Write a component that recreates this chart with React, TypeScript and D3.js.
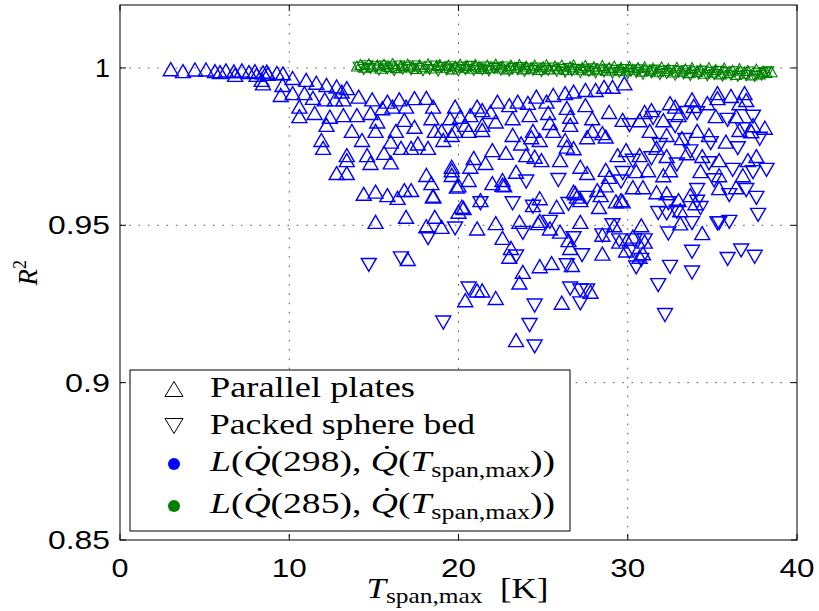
import React from "react";
import * as d3 from "d3";

// ---------- data ----------
const xTicks = [0, 10, 20, 30, 40];
const yTicks = [0.85, 0.9, 0.95, 1];
const yTickLabels = ["0.85", "0.9", "0.95", "1"];
const legendLabels = ["Parallel plates", "Packed sphere bed"];

// Blue, parallel plates (up triangles): [T_span,max, R^2]
const bluePlates: [number, number][] = [
  [3.0, 0.9996], [3.72, 0.999], [4.43, 0.9995], [5.08, 0.9995], [5.61, 0.999], [5.91, 0.9987],
  [6.26, 0.9992], [6.73, 0.9989], [6.8, 0.9978], [7.2, 0.9992], [7.62, 0.9987], [7.97, 0.999],
  [8.07, 0.9978], [8.37, 0.9962], [8.45, 0.9951], [8.45, 0.9986], [8.67, 0.9988], [8.74, 0.9981],
  [9.27, 0.9984], [9.63, 0.9983], [9.6, 0.9946], [9.5, 0.9914], [10.2, 0.9968], [10.2, 0.992],
  [10.6, 0.9877], [10.6, 0.9847], [11.0, 0.9962], [10.9, 0.992], [11.5, 0.9857], [11.6, 0.9953],
  [11.4, 0.9905], [12.2, 0.9946], [12.1, 0.99], [12.2, 0.9819], [11.9, 0.9771], [12.0, 0.9746],
  [12.4, 0.9845], [12.8, 0.9941], [12.7, 0.99], [13.2, 0.985], [13.4, 0.9936], [13.2, 0.99],
  [13.1, 0.9925], [13.7, 0.98], [13.4, 0.9723], [13.4, 0.9707], [12.8, 0.9666], [13.4, 0.9666],
  [14.1, 0.9909], [14.0, 0.985], [14.3, 0.9771], [14.6, 0.9723], [14.8, 0.9698], [14.4, 0.96],
  [15.1, 0.9607], [15.1, 0.9511], [14.9, 0.99], [14.8, 0.9857], [15.2, 0.983], [15.1, 0.98],
  [15.5, 0.9872], [15.8, 0.9893], [15.6, 0.973], [16.0, 0.97], [16.0, 0.9766], [16.3, 0.98],
  [16.1, 0.9877], [15.8, 0.9596], [16.4, 0.9587], [16.8, 0.9612], [17.2, 0.9612], [16.9, 0.9527],
  [16.6, 0.9746], [16.8, 0.9835], [16.5, 0.99], [16.9, 0.9877], [17.2, 0.9746], [17.4, 0.9904],
  [17.4, 0.9813], [17.6, 0.976], [18.1, 0.9905], [18.5, 0.9877], [18.4, 0.984], [18.6, 0.98],
  [18.2, 0.9746], [18.1, 0.966], [18.4, 0.9634], [18.5, 0.9591], [18.5, 0.9594], [18.6, 0.9527],
  [18.1, 0.9497], [19.0, 0.9495], [19.0, 0.98], [19.1, 0.9771], [19.6, 0.9787], [19.8, 0.9877],
  [19.5, 0.984], [19.6, 0.9686], [19.6, 0.966], [19.9, 0.9623], [20.0, 0.9543], [17.0, 0.9393],
  [21.1, 0.9877], [22.3, 0.9893], [21.9, 0.986], [23.5, 0.9893], [24.6, 0.9909], [25.6, 0.9914],
  [26.3, 0.992], [26.8, 0.9925], [27.5, 0.993], [28.1, 0.993], [28.6, 0.994], [29.1, 0.994],
  [29.8, 0.9951], [20.7, 0.985], [20.1, 0.9845], [21.4, 0.9866], [23.0, 0.9882], [24.1, 0.9889],
  [25.2, 0.9893], [26.4, 0.9873], [27.5, 0.9882], [28.9, 0.986], [24.2, 0.985], [25.3, 0.9857],
  [26.6, 0.9845], [27.9, 0.984], [29.7, 0.9835], [22.2, 0.983], [23.2, 0.984], [21.4, 0.9819],
  [20.4, 0.9819], [19.8, 0.98], [20.6, 0.98], [21.4, 0.9803], [25.4, 0.9825], [26.6, 0.9819],
  [24.4, 0.98], [25.6, 0.98], [23.2, 0.9787], [27.9, 0.98], [28.5, 0.9793], [28.7, 0.9782],
  [27.6, 0.978], [24.3, 0.978], [26.3, 0.9771], [23.7, 0.976], [24.8, 0.9771], [26.4, 0.975],
  [26.8, 0.9745], [22.0, 0.9739], [22.8, 0.973], [24.0, 0.9723], [24.5, 0.9718], [24.9, 0.9707],
  [20.9, 0.9714], [21.6, 0.9698], [20.7, 0.9686], [19.6, 0.9675], [26.0, 0.9707], [27.2, 0.9686],
  [28.7, 0.9676], [29.4, 0.9723], [28.9, 0.9654], [27.6, 0.9666], [23.4, 0.967], [22.6, 0.9644],
  [22.7, 0.9627], [22.6, 0.9629], [20.6, 0.9644], [20.0, 0.9627], [22.0, 0.9634], [20.3, 0.9555],
  [24.8, 0.9586], [24.4, 0.9564], [25.8, 0.9559], [27.0, 0.9591], [26.9, 0.9602], [28.7, 0.9627],
  [29.6, 0.958], [29.3, 0.9576], [28.4, 0.9596], [28.2, 0.9612], [26.8, 0.9607], [27.2, 0.958],
  [20.2, 0.9559], [21.1, 0.949], [22.2, 0.9507], [22.6, 0.946], [23.1, 0.9428], [23.0, 0.94],
  [23.6, 0.9511], [21.3, 0.958], [24.7, 0.9507], [24.8, 0.937], [24.8, 0.9514], [25.4, 0.949],
  [26.0, 0.948], [26.5, 0.9453], [26.6, 0.9428], [27.2, 0.9511], [28.3, 0.9558], [28.5, 0.947],
  [28.5, 0.941], [29.2, 0.95], [29.5, 0.9448], [30.8, 0.95], [31.0, 0.9448], [30.3, 0.9464],
  [30.7, 0.94], [25.5, 0.938], [26.7, 0.9374], [23.8, 0.9352], [23.6, 0.9318], [21.1, 0.9293],
  [21.4, 0.9293], [20.4, 0.9262], [22.2, 0.9269], [27.8, 0.9289], [26.1, 0.9254], [23.4, 0.9135],
  [31.0, 0.986], [31.4, 0.9866], [32.5, 0.9888], [32.8, 0.9877], [33.8, 0.99], [33.9, 0.9879],
  [34.7, 0.9888], [35.3, 0.992], [35.3, 0.9904], [36.1, 0.9911], [36.9, 0.992], [37.0, 0.9898],
  [36.6, 0.9888], [30.7, 0.9834], [32.1, 0.9834], [33.0, 0.985], [35.2, 0.9847], [36.4, 0.9847],
  [37.4, 0.9818], [38.1, 0.981], [31.3, 0.98], [32.3, 0.9787], [33.2, 0.9777], [34.1, 0.98],
  [34.8, 0.9787], [35.8, 0.9766], [36.6, 0.9803], [37.3, 0.9799], [29.9, 0.9739], [30.7, 0.9723],
  [31.7, 0.9746], [32.3, 0.972], [33.5, 0.9729], [34.4, 0.972], [35.4, 0.9707], [37.1, 0.9707],
  [37.6, 0.972], [36.8, 0.9659], [30.5, 0.9672], [31.2, 0.9675], [32.1, 0.9659], [32.5, 0.9675],
  [34.3, 0.9672], [35.4, 0.9659], [30.3, 0.9621], [30.9, 0.9621], [31.7, 0.9605], [32.3, 0.9602],
  [33.0, 0.958], [33.7, 0.9596], [35.4, 0.9618], [36.4, 0.9621], [34.0, 0.957], [33.1, 0.9548],
  [29.7, 0.9576], [33.1, 0.9506], [34.4, 0.9475], [30.9, 0.9411], [29.9, 0.942],
];

// Blue, packed sphere bed (down triangles)
const blueSpheres: [number, number][] = [
  [18.2, 0.9459], [19.8, 0.949], [14.7, 0.9374], [16.6, 0.9395], [20.6, 0.9299], [19.1, 0.9191],
  [24.5, 0.9115], [24.2, 0.9183], [24.5, 0.9245], [23.4, 0.9401], [23.8, 0.9476], [21.3, 0.957],
  [23.2, 0.957], [25.4, 0.9511], [27.3, 0.9405], [30.5, 0.9366], [30.8, 0.939], [32.5, 0.9368],
  [31.8, 0.931], [32.2, 0.9215], [33.8, 0.9416], [33.8, 0.935], [35.9, 0.9393], [36.7, 0.942],
  [37.5, 0.94], [35.4, 0.9507], [36.0, 0.9511], [37.7, 0.9533], [37.6, 0.9587], [37.0, 0.9612],
  [34.1, 0.9612], [33.8, 0.9507], [31.8, 0.9539], [32.4, 0.957], [32.9, 0.9543], [34.3, 0.9555],
  [34.1, 0.9575], [30.1, 0.9416], [29.5, 0.9452], [28.5, 0.9468], [26.4, 0.9373], [26.6, 0.9299],
  [27.2, 0.9293], [27.6, 0.9293], [27.2, 0.9252], [24.4, 0.9559], [26.5, 0.9568], [27.6, 0.9587],
  [26.8, 0.9459], [29.6, 0.9639], [25.9, 0.9644], [24.0, 0.9639], [29.1, 0.95], [30.4, 0.9452],
  [31.0, 0.9452], [37.4, 0.9845], [30.1, 0.9818], [31.5, 0.9841], [33.5, 0.9857], [33.4, 0.9771],
  [34.9, 0.9761], [31.4, 0.9713], [34.8, 0.9697], [36.2, 0.9676], [38.2, 0.9676], [37.4, 0.9669],
  [29.7, 0.9666], [35.1, 0.9643], [36.0, 0.9596], [32.3, 0.9538], [35.3, 0.9506], [32.4, 0.9474],
  [34.1, 0.9856], [32.8, 0.9815], [35.9, 0.9835], [36.8, 0.9805], [37.8, 0.9775], [31.9, 0.9755],
  [33.7, 0.9735], [36.5, 0.9745], [32.9, 0.9693], [30.3, 0.9705],
];

// Green, parallel plates (up triangles)
const greenPlates: [number, number][] = [
  [14.0, 1.0006], [14.2, 1.0011], [14.5, 1.0002], [14.7, 1.0013], [14.9, 1.0004], [15.2, 1.0009],
  [15.4, 0.9999], [15.6, 1.0012], [15.9, 1.0005], [16.1, 1.0014], [16.3, 1.0001], [16.6, 1.0008],
  [16.8, 1.0003], [17.0, 1.0012], [17.3, 1.0006], [17.5, 0.9998], [17.7, 1.001], [18.0, 1.0004],
  [18.2, 1.0013], [18.4, 1.0], [18.7, 1.0008], [18.9, 1.0011], [19.1, 1.0002], [19.4, 1.0009],
  [19.6, 0.9997], [19.8, 1.0006], [20.1, 1.0012], [20.3, 1.0002], [20.5, 1.0008], [20.8, 0.9999],
  [21.0, 1.0011], [21.2, 1.0004], [21.5, 0.9998], [21.7, 1.0009], [21.9, 1.0002], [22.2, 1.0012],
  [22.4, 1.0], [22.6, 1.0006], [22.9, 0.9997], [23.1, 1.0009], [23.3, 1.0002], [23.6, 1.0011],
  [23.8, 0.9997], [24.0, 1.0006], [24.3, 1.0], [24.5, 1.0009], [24.7, 0.9995], [25.0, 1.0004],
  [25.2, 1.001], [25.4, 0.9997], [25.7, 1.0006], [25.9, 0.9999], [26.1, 1.0009], [26.4, 0.9995],
  [26.6, 1.0004], [26.8, 1.001], [27.1, 0.9996], [27.3, 1.0002], [27.5, 1.0008], [27.8, 0.9994],
  [28.0, 1.0004], [28.2, 0.9997], [28.5, 1.0008], [28.7, 0.9993], [28.9, 1.0001], [29.2, 1.0006],
  [29.4, 0.9994], [29.6, 1.0002], [29.9, 0.9991], [30.1, 1.0005], [30.3, 0.9996], [30.6, 1.0001],
  [30.8, 0.999], [31.0, 1.0004], [31.3, 0.9993], [31.5, 0.9999], [31.7, 0.9988], [32.0, 1.0003],
  [32.2, 0.9992], [32.4, 0.9998], [32.7, 0.9987], [32.9, 1.0002], [33.1, 0.999], [33.4, 0.9997],
  [33.6, 0.9985], [33.8, 1.0001], [34.1, 0.9989], [34.3, 0.9996], [34.5, 0.9983], [34.8, 1.0001],
  [35.0, 0.9987], [35.2, 0.9995], [35.5, 0.9981], [35.7, 1.0], [35.9, 0.9985], [36.2, 0.9993],
  [36.4, 0.9979], [36.6, 0.9998], [36.9, 0.9983], [37.1, 0.9992], [37.3, 0.9978], [37.6, 0.9996],
  [37.8, 0.9981], [38.0, 0.999], [38.2, 0.9986], [38.5, 0.9988],
];

// Green, packed sphere bed (down triangles)
const greenSpheres: [number, number][] = [
  [14.1, 1.0002], [14.4, 0.9995], [14.6, 1.0007], [14.8, 0.9998], [15.1, 1.0004], [15.3, 0.9993],
  [15.5, 1.0006], [15.8, 0.9997], [16.0, 1.0003], [16.2, 0.9991], [16.5, 1.0006], [16.7, 0.9996],
  [16.9, 1.0002], [17.2, 0.9994], [17.4, 1.0006], [17.6, 0.9998], [17.9, 0.9991], [18.1, 1.0003],
  [18.3, 0.9995], [18.6, 1.0006], [18.8, 0.999], [19.0, 1.0001], [19.3, 0.9994], [19.5, 1.0004],
  [19.7, 0.9997], [20.0, 0.9991], [20.2, 1.0002], [20.4, 0.9995], [20.7, 1.0005], [20.9, 0.9992],
  [21.1, 1.0], [21.4, 0.9994], [21.6, 1.0003], [21.8, 0.999], [22.1, 0.9998], [22.3, 1.0002],
  [22.5, 0.9993], [22.8, 1.0003], [23.0, 0.999], [23.2, 0.9998], [23.5, 0.9994], [23.7, 1.0001],
  [23.9, 0.9989], [24.2, 0.9997], [24.4, 0.9992], [24.6, 1.0], [24.9, 0.9988], [25.1, 0.9997],
  [25.3, 0.9992], [25.6, 1.0], [25.8, 0.9989], [26.0, 0.9995], [26.3, 0.9986], [26.5, 0.9998],
  [26.7, 0.999], [27.0, 0.9995], [27.2, 0.9985], [27.4, 0.9994], [27.7, 0.9989], [27.9, 0.9997],
  [28.1, 0.9984], [28.4, 0.9993], [28.6, 0.9987], [28.8, 0.9996], [29.1, 0.9983], [29.3, 0.9992],
  [29.5, 0.9986], [29.8, 0.9995], [30.0, 0.9982], [30.2, 0.9991], [30.5, 0.9985], [30.7, 0.9994],
  [30.9, 0.998], [31.2, 0.999], [31.4, 0.9984], [31.6, 0.9993], [31.9, 0.9979], [32.1, 0.9989],
  [32.3, 0.9982], [32.6, 0.9992], [32.8, 0.9977], [33.0, 0.9988], [33.3, 0.9981], [33.5, 0.9991],
  [33.7, 0.9976], [34.0, 0.9987], [34.2, 0.998], [34.4, 0.999], [34.7, 0.9975], [34.9, 0.9986],
  [35.1, 0.9979], [35.4, 0.9989], [35.6, 0.9974], [35.8, 0.9985], [36.1, 0.9977], [36.3, 0.9988],
  [36.5, 0.9973], [36.8, 0.9984], [37.0, 0.9976], [37.2, 0.9987], [37.5, 0.9973], [37.7, 0.9983],
  [37.9, 0.9977], [38.1, 0.9985], [38.3, 0.9988],
];

// ---------- layout ----------
const W = 819;
const H = 611;
const M = { left: 120, right: 797, top: 5, bottom: 540 };

const x = d3.scaleLinear().domain([0, 40]).range([M.left, M.right]);
const y = d3.scaleLinear().domain([0.85, 1.02]).range([M.bottom, M.top]);

const triUp = (w: number, h: number) =>
  `M0,${-h / 2}L${w / 2},${h / 2}L${-w / 2},${h / 2}Z`;
const triDown = (w: number, h: number) =>
  `M0,${h / 2}L${w / 2},${-h / 2}L${-w / 2},${-h / 2}Z`;

const BLUE = "#0000ff";
const GREEN = "#008000";
const SERIF = "'Liberation Serif', 'DejaVu Serif', serif";
const SANS = "'Liberation Sans', Arial, sans-serif";

const xLabelWidth: Record<string, number> = { "0": 17, "10": 35, "20": 35, "30": 35, "40": 35 };
const yLabelWidth: Record<string, number> = { "0.85": 62, "0.9": 45, "0.95": 62, "1": 15 };

export default function App() {
  const blueUp = triUp(15, 13);
  const blueDown = triDown(15, 13);
  const greenUp = triUp(11, 10);
  const greenDown = triDown(11, 10);

  const grid = "#555";
  const dash = "1.6,7.7";
  const cx = (M.left + M.right) / 2;
  const cy = (M.top + M.bottom) / 2;

  return (
    <svg
      width={W}
      height={H}
      style={{ position: "absolute", left: 0, top: 0, background: "#fff" }}
    >
      <rect x={0} y={0} width={W} height={H} fill="#fff" />
      {/* grid */}
      {xTicks.slice(1, -1).map((t) => (
        <line key={"gx" + t} x1={x(t)} x2={x(t)} y1={M.top} y2={M.bottom}
          stroke={grid} strokeWidth={1} strokeDasharray={dash} />
      ))}
      {yTicks.slice(1).map((t) => (
        <line key={"gy" + t} x1={M.left} x2={M.right} y1={y(t)} y2={y(t)}
          stroke={grid} strokeWidth={1} strokeDasharray={dash} />
      ))}

      {/* blue markers */}
      <g fill="none" stroke={BLUE} strokeWidth={1.4}>
        {bluePlates.map((d, i) => (
          <path key={"bp" + i} d={blueUp} transform={`translate(${x(d[0])},${y(d[1])})`} />
        ))}
        {blueSpheres.map((d, i) => (
          <path key={"bs" + i} d={blueDown} transform={`translate(${x(d[0])},${y(d[1])})`} />
        ))}
      </g>
      {/* green markers */}
      <g fill="none" stroke={GREEN} strokeWidth={1.1}>
        {greenPlates.map((d, i) => (
          <path key={"gp" + i} d={greenUp} transform={`translate(${x(d[0])},${y(d[1])})`} />
        ))}
        {greenSpheres.map((d, i) => (
          <path key={"gs" + i} d={greenDown} transform={`translate(${x(d[0])},${y(d[1])})`} />
        ))}
      </g>

      {/* axes box */}
      <rect x={M.left} y={M.top} width={M.right - M.left} height={M.bottom - M.top}
        fill="none" stroke="#000" strokeWidth={1} />
      {xTicks.map((t) => (
        <g key={"tx" + t}>
          <line x1={x(t)} x2={x(t)} y1={M.bottom} y2={M.bottom - 6} stroke="#000" />
          <line x1={x(t)} x2={x(t)} y1={M.top} y2={M.top + 6} stroke="#000" />
          <text x={x(t)} y={577} textAnchor="middle" fontFamily={SANS} fontSize={26}
            textLength={xLabelWidth[String(t)]} lengthAdjust="spacingAndGlyphs">{t}</text>
        </g>
      ))}
      {yTicks.map((t, i) => (
        <g key={"ty" + t}>
          <line x1={M.left} x2={M.left + 6} y1={y(t)} y2={y(t)} stroke="#000" />
          <line x1={M.right} x2={M.right - 6} y1={y(t)} y2={y(t)} stroke="#000" />
          <text x={110} y={y(t) + 9} textAnchor="end" fontFamily={SANS} fontSize={26}
            textLength={yLabelWidth[yTickLabels[i]]} lengthAdjust="spacingAndGlyphs">{yTickLabels[i]}</text>
        </g>
      ))}

      {/* axis labels */}
      <text x={cx - 92} y={598} fontFamily={SERIF} fontSize={29} textLength={182} lengthAdjust="spacingAndGlyphs">
        <tspan fontStyle="italic">T</tspan>
        <tspan fontSize={21} dy={5}>span,max</tspan>
        <tspan dy={-5}>{"\u00a0\u00a0[K]"}</tspan>
      </text>
      <text transform={`translate(37,${cy + 13}) rotate(-90)`} fontFamily={SERIF} fontSize={27}>
        <tspan fontStyle="italic">R</tspan>
        <tspan fontSize={18} dy={-11}>2</tspan>
      </text>

      {/* legend */}
      <rect x={130} y={370} width={440} height={161} fill="#fff" stroke="#000" strokeWidth={1} />
      <path d={triUp(18, 15)} transform="translate(174,389)" fill="none" stroke="#000" strokeWidth={1} />
      <path d={triDown(18, 15)} transform="translate(174,426)" fill="none" stroke="#000" strokeWidth={1} />
      <circle cx={174} cy={464} r={6} fill={BLUE} />
      <circle cx={174} cy={506} r={6} fill={GREEN} />
      <text x={210} y={397} fontFamily={SERIF} fontSize={29} textLength={205} lengthAdjust="spacingAndGlyphs">{legendLabels[0]}</text>
      <text x={210} y={434} fontFamily={SERIF} fontSize={29} textLength={265} lengthAdjust="spacingAndGlyphs">{legendLabels[1]}</text>
      {[
        { t: "298", yy: 471 },
        { t: "285", yy: 513 },
      ].map((r) => (
        <text key={r.t} x={210} y={r.yy} fontFamily={SERIF} fontSize={29} textLength={345} lengthAdjust="spacingAndGlyphs">
          <tspan fontStyle="italic">L</tspan>
          <tspan>(</tspan>
          <tspan fontStyle="italic">{"Q\u0307"}</tspan>
          <tspan>{`(${r.t}),\u00a0`}</tspan>
          <tspan fontStyle="italic">{"Q\u0307"}</tspan>
          <tspan>(</tspan>
          <tspan fontStyle="italic">T</tspan>
          <tspan fontSize={20} dy={6}>span,max</tspan>
          <tspan dy={-6}>))</tspan>
        </text>
      ))}
    </svg>
  );
}
